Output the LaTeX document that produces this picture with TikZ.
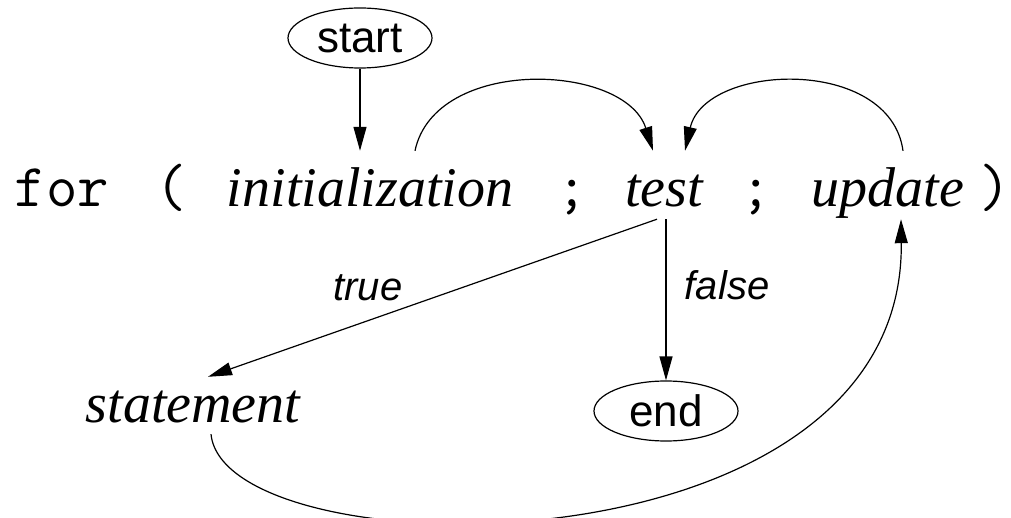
\documentclass[tikz,border=0pt]{standalone}
\usepackage{fontspec}
\setmainfont{Liberation Serif}
\setsansfont{Liberation Sans}
\usetikzlibrary{arrows.meta,shapes.geometric}

\begin{document}
\begin{tikzpicture}[x=1pt,y=-1pt,
    code/.style={font=\fontsize{56}{60}\selectfont\itshape, inner sep=0pt, text height=56pt, text depth=12pt, anchor=base},
    kw/.style={font=\fontsize{61}{64}\selectfont\ttfamily, inner sep=0pt, anchor=base},
    term/.style={draw, ellipse, line width=1.2pt, font=\fontsize{44}{48}\selectfont\sffamily, inner sep=0pt, minimum width=144pt, minimum height=60pt},
    lbl/.style={font=\fontsize{40}{44}\selectfont\sffamily\itshape, inner sep=0pt, anchor=base},
    arr/.style={line width=1.2pt, -{Triangle[length=24pt,width=13pt]}}]
    \useasboundingbox (0,0) rectangle (1011,518);

    % 1. the for line
    \node[kw] (for) at (62,207) {for};
    \node[kw] (lpar) at (171,207) {(};
    \node[code] (init) at (370,207) {initialization};
    \node[kw] (semi1) at (572,207) {;};
    \node[code] (test) at (664,207) {test};
    \node[kw] (semi2) at (756,207) {;};
    \node[code] (update) at (888,207) {update};
    \node[kw] (rpar) at (995,207) {)};

    % 2. start, end, statement
    \node[term] (start) at (360,38) {start};
    \node[term] (end) at (666,411) {end};
    \node[code, text height=45pt] (stmt) at (193,422) {statement};

    % 3. branch labels
    \node[lbl] (true) at (368,301) {true};
    \node[lbl] (false) at (727,300) {false};

    % 4. flow
    \draw[arr] (start) -- (start |- init.north);
    \draw[arr] ([xshift=45pt]init.north) .. controls +(20,-95) and +(-28,-88) .. ([xshift=-11pt]test.north);
    \draw[arr] ([xshift=15pt]update.north) .. controls +(-13,-95) and +(20,-88) .. ([xshift=21pt]test.north);
    \draw[arr] ([xshift=-7pt]test.south) -- ([xshift=15pt]stmt.north);
    \draw[arr] ([xshift=2pt]test.south) -- (end.north);
    \draw[arr] ([xshift=18pt]stmt.south) .. controls +(14,138) and +(4,362) .. ([xshift=13pt]update.south);
\end{tikzpicture}
\end{document}
